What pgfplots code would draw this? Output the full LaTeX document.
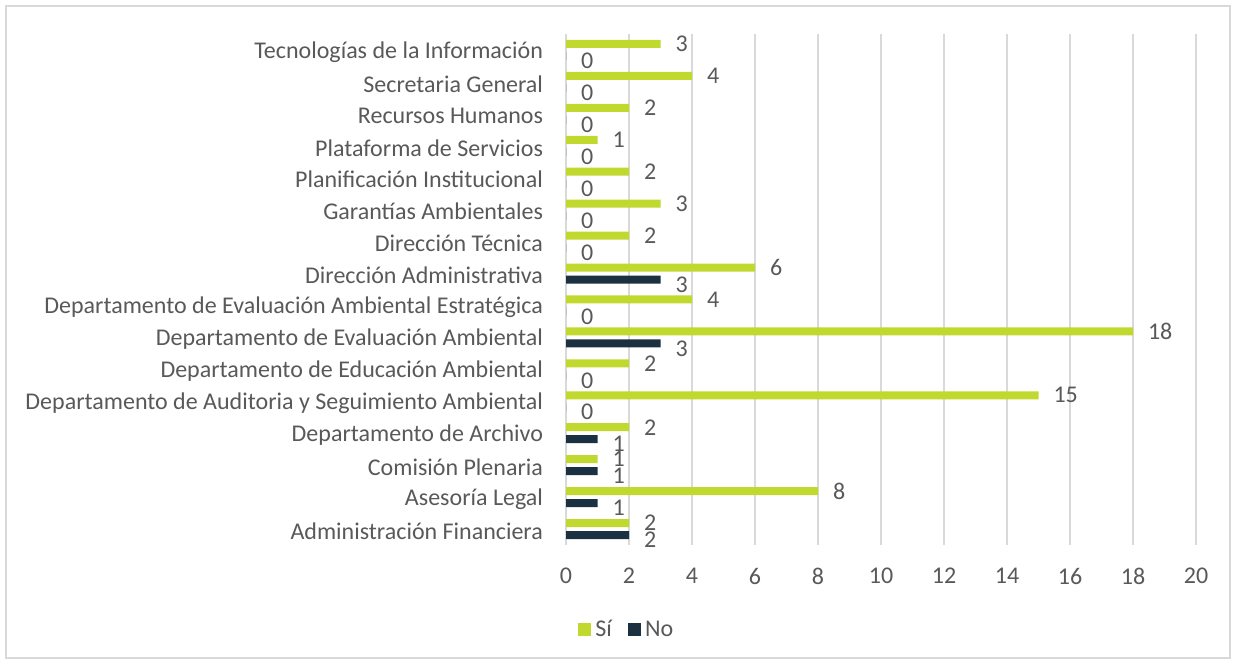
\documentclass[border=0pt]{standalone}
\usepackage{fontspec}
\setmainfont{Carlito}
\usepackage{pgfplots}
\pgfplotsset{compat=1.18}
\definecolor{si}{HTML}{C1D82F}
\definecolor{no}{HTML}{1B3040}
\definecolor{txt}{HTML}{595959}
\definecolor{grd}{HTML}{D9D9D9}

\begin{document}
\begin{tikzpicture}
\fill[white] (0pt,0pt) rectangle (618pt,332pt);
\draw[grd, line width=0.6pt] (3pt,3pt) rectangle (615pt,329pt);
\begin{axis}[
    at={(283pt,59.5pt)}, anchor=south west,
    scale only axis,
    width=315pt, height=255.5pt,
    xbar, bar width=4pt,
    xmin=0, xmax=20,
    ymin=-0.5, ymax=15.5,
    xtick={0,2,...,20},
    ytick={0,...,15},
    yticklabels={Administración Financiera, Asesoría Legal, Comisión Plenaria,
        Departamento de Archivo, Departamento de Auditoria y Seguimiento Ambiental,
        Departamento de Educación Ambiental, Departamento de Evaluación Ambiental,
        Departamento de Evaluación Ambiental Estratégica, Dirección Administrativa,
        Dirección Técnica, Garantías Ambientales, Planificación Institucional,
        Plataforma de Servicios, Recursos Humanos, Secretaria General,
        Tecnologías de la Información},
    major tick length=0pt,
    xmajorgrids, grid style={grd, line width=0.75pt},
    axis line style={draw=none},
    /pgf/number format/assume math mode=true,
    tick label style={font=\fontsize{12}{14}\selectfont, text=txt},
    yticklabel style={xshift=-8pt, yshift=-1pt},
    xticklabel style={yshift=-8pt},
    nodes near coords,
    nodes near coords align={horizontal},
    every node near coord/.append style={font=\fontsize{12}{14}\selectfont, text=txt, xshift=4pt},
    reverse legend,
    legend columns=2,
    legend style={at={(rel axis cs:0.098,-0.166)}, anchor=center, draw=none,
        font=\fontsize{12}{14}\selectfont, text=txt,
        /tikz/every even column/.append style={column sep=6pt}},
    legend image code/.code={\fill[#1] (0pt,-3.3pt) rectangle (6.6pt,3.3pt);},
]
\addplot[fill=no, draw=none, every node near coord/.append style={yshift=-2.5pt}] coordinates {
    (2,0) (1,1) (1,2) (1,3) (0,4) (0,5) (3,6) (0,7)
    (3,8) (0,9) (0,10) (0,11) (0,12) (0,13) (0,14) (0,15)
};
\addplot[fill=si, draw=none] coordinates {
    (2,0) (8,1) (1,2) (2,3) (15,4) (2,5) (18,6) (4,7)
    (6,8) (2,9) (3,10) (2,11) (1,12) (2,13) (4,14) (3,15)
};
\legend{No, Sí}
\end{axis}
\end{tikzpicture}
\end{document}
